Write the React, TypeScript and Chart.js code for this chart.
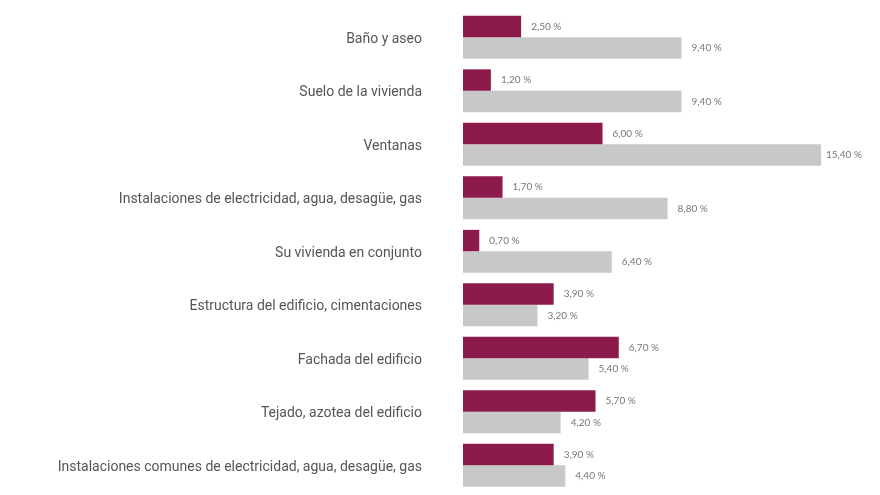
import React, { useEffect, useRef } from "react";
import { Chart, registerables } from "chart.js";

Chart.register(...registerables);

const categories = [
  "Puertas",
  "Baño y aseo",
  "Suelo de la vivienda",
  "Ventanas",
  "Instalaciones de electricidad, agua, desagüe, gas",
  "Su vivienda en conjunto",
  "Estructura del edificio, cimentaciones",
  "Fachada del edificio",
  "Tejado, azotea del edificio",
  "Instalaciones comunes de electricidad, agua, desagüe, gas",
];

const seriesA = [2.0, 2.5, 1.2, 6.0, 1.7, 0.7, 3.9, 6.7, 5.7, 3.9];
const seriesB = [9.4, 9.4, 9.4, 15.4, 8.8, 6.4, 3.2, 5.4, 4.2, 4.4];

const fmt = (v: number) => v.toFixed(2).replace(".", ",") + " %";

const valueLabels = {
  id: "valueLabels",
  afterDatasetsDraw(chart: any) {
    const ctx = chart.ctx;
    ctx.save();
    ctx.font = "10px Lato, 'Open Sans', sans-serif";
    ctx.fillStyle = "#777777";
    ctx.textBaseline = "middle";
    ctx.textAlign = "left";
    chart.data.datasets.forEach((ds: any, di: number) => {
      const meta = chart.getDatasetMeta(di);
      meta.data.forEach((bar: any, i: number) => {
        const text = fmt(ds.data[i]);
        const w = ctx.measureText(text).width;
        let x = bar.x + 10;
        if (x + w > 862) x = 862 - w;
        ctx.fillText(text, x, bar.y);
      });
    });
    ctx.restore();
  },
};

export default function App() {
  const ref = useRef<HTMLCanvasElement>(null);
  useEffect(() => {
    if (!ref.current) return;
    const chart = new Chart(ref.current, {
      type: "bar",
      data: {
        labels: categories,
        datasets: [
          {
            data: seriesA,
            backgroundColor: "#8c1b4b",
            categoryPercentage: 0.8,
            barPercentage: 1.0,
          },
          {
            data: seriesB,
            backgroundColor: "#c8c8c8",
            categoryPercentage: 0.8,
            barPercentage: 1.0,
          },
        ],
      },
      options: {
        indexAxis: "y",
        responsive: true,
        maintainAspectRatio: false,
        animation: false,
        layout: { padding: { left: 0, right: 45, top: 0, bottom: 0 } },
        plugins: {
          legend: { display: false },
          tooltip: { enabled: false },
        },
        scales: {
          x: { display: false, min: 0, max: 16 },
          y: {
            grid: { display: false, drawTicks: false },
            border: { display: false },
            ticks: {
              padding: 41,
              labelOffset: 2,
              color: "#555555",
              font: { family: "Roboto, sans-serif", size: 14 },
            },
            afterFit: (scale: any) => {
              scale.width = 463;
              scale.paddingTop = 0;
              scale.paddingBottom = 0;
            },
          },
        },
      },
      plugins: [valueLabels],
    });
    return () => chart.destroy();
  }, []);
  return (
    <div
      style={{
        position: "relative",
        marginTop: -51,
        marginLeft: -8,
        width: 880,
        height: 535,
      }}
    >
      <canvas ref={ref} />
    </div>
  );
}
